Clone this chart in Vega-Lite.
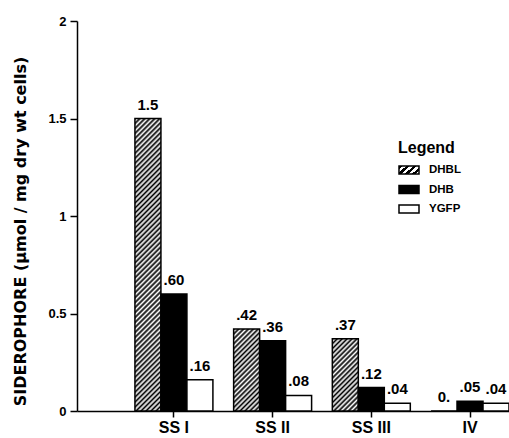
{
  "$schema": "https://vega.github.io/schema/vega-lite/v6.json",
  "autosize": {"type": "none"},
  "padding": {"left": 77, "top": 21, "right": 0, "bottom": 27},
  "width": 432,
  "height": 390,
  "background": "#ffffff",
  "config": {"view": {"stroke": null}},
  "data": {"values": [
    {"group": "SS I", "series": "DHBL", "value": 1.5, "label": "1.5"},
    {"group": "SS I", "series": "DHB", "value": 0.6, "label": ".60"},
    {"group": "SS I", "series": "YGFP", "value": 0.16, "label": ".16"},
    {"group": "SS II", "series": "DHBL", "value": 0.42, "label": ".42"},
    {"group": "SS II", "series": "DHB", "value": 0.36, "label": ".36"},
    {"group": "SS II", "series": "YGFP", "value": 0.08, "label": ".08"},
    {"group": "SS III", "series": "DHBL", "value": 0.37, "label": ".37"},
    {"group": "SS III", "series": "DHB", "value": 0.12, "label": ".12"},
    {"group": "SS III", "series": "YGFP", "value": 0.04, "label": ".04"},
    {"group": "IV", "series": "DHBL", "value": 0, "label": "0."},
    {"group": "IV", "series": "DHB", "value": 0.05, "label": ".05"},
    {"group": "IV", "series": "YGFP", "value": 0.04, "label": ".04"}
  ]},
  "encoding": {
    "x": {
      "field": "group", "type": "nominal",
      "sort": ["SS I", "SS II", "SS III", "IV"],
      "scale": {"paddingInner": 0.21, "paddingOuter": 0.2935, "align": 1},
      "axis": {
        "title": null, "labelAngle": 0, "tickSize": 6, "tickColor": "#000", "tickWidth": 1.5,
        "domainColor": "#000", "domainWidth": 1.5,
        "labelFont": "Liberation Sans", "labelFontSize": 16, "labelFontWeight": "bold", "labelColor": "#000",
        "labelPadding": 2, "grid": false
      }
    },
    "xOffset": {
      "field": "series", "type": "nominal",
      "scale": {"domain": ["DHBL", "DHB", "YGFP"], "paddingInner": 0, "paddingOuter": 0}
    },
    "y": {
      "field": "value", "type": "quantitative",
      "scale": {"domain": [0, 2], "nice": false, "zero": true},
      "axis": {
        "values": [0, 0.5, 1, 1.5, 2],
        "labelExpr": "'' + datum.value",
        "grid": false,
        "tickSize": 7, "tickColor": "#000", "tickWidth": 1.5,
        "domainColor": "#000", "domainWidth": 1.5,
        "labelFont": "Liberation Sans", "labelFontSize": 13, "labelFontWeight": "bold", "labelColor": "#000",
        "labelPadding": 4,
        "title": "SIDEROPHORE (μmol / mg dry wt cells)",
        "titleFont": "DejaVu Sans", "titleFontSize": 16, "titleFontWeight": "bold", "titleColor": "#000",
        "titleX": -52, "titleY": 210, "titleBaseline": "alphabetic", "titleAngle": 270, "titleAlign": "center"
      }
    }
  },
  "layer": [
    {
      "mark": {"type": "bar", "stroke": "#000", "strokeWidth": 1.5},
      "encoding": {
        "fill": {
          "field": "series", "type": "nominal",
          "condition": [
            {"test": "datum.group === 'SS I' && datum.series === 'DHBL'", "value": {"gradient": "linear", "x1": 0, "y1": 0, "x2": 0.096, "y2": 1.0804, "stops": [
              {"offset": 0, "color": "#000"},{"offset": 0.0078, "color": "#fff"},{"offset": 0.0156, "color": "#000"},{"offset": 0.0234, "color": "#fff"},
              {"offset": 0.0313, "color": "#000"},{"offset": 0.0391, "color": "#fff"},{"offset": 0.0469, "color": "#000"},{"offset": 0.0547, "color": "#fff"},
              {"offset": 0.0625, "color": "#000"},{"offset": 0.0703, "color": "#fff"},{"offset": 0.0781, "color": "#000"},{"offset": 0.0859, "color": "#fff"},
              {"offset": 0.0938, "color": "#000"},{"offset": 0.1016, "color": "#fff"},{"offset": 0.1094, "color": "#000"},{"offset": 0.1172, "color": "#fff"},
              {"offset": 0.125, "color": "#000"},{"offset": 0.1328, "color": "#fff"},{"offset": 0.1406, "color": "#000"},{"offset": 0.1484, "color": "#fff"},
              {"offset": 0.1563, "color": "#000"},{"offset": 0.1641, "color": "#fff"},{"offset": 0.1719, "color": "#000"},{"offset": 0.1797, "color": "#fff"},
              {"offset": 0.1875, "color": "#000"},{"offset": 0.1953, "color": "#fff"},{"offset": 0.2031, "color": "#000"},{"offset": 0.2109, "color": "#fff"},
              {"offset": 0.2188, "color": "#000"},{"offset": 0.2266, "color": "#fff"},{"offset": 0.2344, "color": "#000"},{"offset": 0.2422, "color": "#fff"},
              {"offset": 0.25, "color": "#000"},{"offset": 0.2578, "color": "#fff"},{"offset": 0.2656, "color": "#000"},{"offset": 0.2734, "color": "#fff"},
              {"offset": 0.2813, "color": "#000"},{"offset": 0.2891, "color": "#fff"},{"offset": 0.2969, "color": "#000"},{"offset": 0.3047, "color": "#fff"},
              {"offset": 0.3125, "color": "#000"},{"offset": 0.3203, "color": "#fff"},{"offset": 0.3281, "color": "#000"},{"offset": 0.3359, "color": "#fff"},
              {"offset": 0.3438, "color": "#000"},{"offset": 0.3516, "color": "#fff"},{"offset": 0.3594, "color": "#000"},{"offset": 0.3672, "color": "#fff"},
              {"offset": 0.375, "color": "#000"},{"offset": 0.3828, "color": "#fff"},{"offset": 0.3906, "color": "#000"},{"offset": 0.3984, "color": "#fff"},
              {"offset": 0.4063, "color": "#000"},{"offset": 0.4141, "color": "#fff"},{"offset": 0.4219, "color": "#000"},{"offset": 0.4297, "color": "#fff"},
              {"offset": 0.4375, "color": "#000"},{"offset": 0.4453, "color": "#fff"},{"offset": 0.4531, "color": "#000"},{"offset": 0.4609, "color": "#fff"},
              {"offset": 0.4688, "color": "#000"},{"offset": 0.4766, "color": "#fff"},{"offset": 0.4844, "color": "#000"},{"offset": 0.4922, "color": "#fff"},
              {"offset": 0.5, "color": "#000"},{"offset": 0.5078, "color": "#fff"},{"offset": 0.5156, "color": "#000"},{"offset": 0.5234, "color": "#fff"},
              {"offset": 0.5313, "color": "#000"},{"offset": 0.5391, "color": "#fff"},{"offset": 0.5469, "color": "#000"},{"offset": 0.5547, "color": "#fff"},
              {"offset": 0.5625, "color": "#000"},{"offset": 0.5703, "color": "#fff"},{"offset": 0.5781, "color": "#000"},{"offset": 0.5859, "color": "#fff"},
              {"offset": 0.5938, "color": "#000"},{"offset": 0.6016, "color": "#fff"},{"offset": 0.6094, "color": "#000"},{"offset": 0.6172, "color": "#fff"},
              {"offset": 0.625, "color": "#000"},{"offset": 0.6328, "color": "#fff"},{"offset": 0.6406, "color": "#000"},{"offset": 0.6484, "color": "#fff"},
              {"offset": 0.6563, "color": "#000"},{"offset": 0.6641, "color": "#fff"},{"offset": 0.6719, "color": "#000"},{"offset": 0.6797, "color": "#fff"},
              {"offset": 0.6875, "color": "#000"},{"offset": 0.6953, "color": "#fff"},{"offset": 0.7031, "color": "#000"},{"offset": 0.7109, "color": "#fff"},
              {"offset": 0.7188, "color": "#000"},{"offset": 0.7266, "color": "#fff"},{"offset": 0.7344, "color": "#000"},{"offset": 0.7422, "color": "#fff"},
              {"offset": 0.75, "color": "#000"},{"offset": 0.7578, "color": "#fff"},{"offset": 0.7656, "color": "#000"},{"offset": 0.7734, "color": "#fff"},
              {"offset": 0.7813, "color": "#000"},{"offset": 0.7891, "color": "#fff"},{"offset": 0.7969, "color": "#000"},{"offset": 0.8047, "color": "#fff"},
              {"offset": 0.8125, "color": "#000"},{"offset": 0.8203, "color": "#fff"},{"offset": 0.8281, "color": "#000"},{"offset": 0.8359, "color": "#fff"},
              {"offset": 0.8438, "color": "#000"},{"offset": 0.8516, "color": "#fff"},{"offset": 0.8594, "color": "#000"},{"offset": 0.8672, "color": "#fff"},
              {"offset": 0.875, "color": "#000"},{"offset": 0.8828, "color": "#fff"},{"offset": 0.8906, "color": "#000"},{"offset": 0.8984, "color": "#fff"},
              {"offset": 0.9063, "color": "#000"},{"offset": 0.9141, "color": "#fff"},{"offset": 0.9219, "color": "#000"},{"offset": 0.9297, "color": "#fff"},
              {"offset": 0.9375, "color": "#000"},{"offset": 0.9453, "color": "#fff"},{"offset": 0.9531, "color": "#000"},{"offset": 0.9609, "color": "#fff"},
              {"offset": 0.9688, "color": "#000"},{"offset": 0.9766, "color": "#fff"},{"offset": 0.9844, "color": "#000"},{"offset": 0.9922, "color": "#fff"},
              {"offset": 1, "color": "#000"}
            ]}},
            {"test": "datum.group === 'SS II' && datum.series === 'DHBL'", "value": {"gradient": "linear", "x1": 0, "y1": 0, "x2": 0.3799, "y2": 1.1968, "stops": [
              {"offset": 0, "color": "#000"},{"offset": 0.0227, "color": "#fff"},{"offset": 0.0455, "color": "#000"},{"offset": 0.0682, "color": "#fff"},
              {"offset": 0.0909, "color": "#000"},{"offset": 0.1136, "color": "#fff"},{"offset": 0.1364, "color": "#000"},{"offset": 0.1591, "color": "#fff"},
              {"offset": 0.1818, "color": "#000"},{"offset": 0.2045, "color": "#fff"},{"offset": 0.2273, "color": "#000"},{"offset": 0.25, "color": "#fff"},
              {"offset": 0.2727, "color": "#000"},{"offset": 0.2955, "color": "#fff"},{"offset": 0.3182, "color": "#000"},{"offset": 0.3409, "color": "#fff"},
              {"offset": 0.3636, "color": "#000"},{"offset": 0.3864, "color": "#fff"},{"offset": 0.4091, "color": "#000"},{"offset": 0.4318, "color": "#fff"},
              {"offset": 0.4545, "color": "#000"},{"offset": 0.4773, "color": "#fff"},{"offset": 0.5, "color": "#000"},{"offset": 0.5227, "color": "#fff"},
              {"offset": 0.5455, "color": "#000"},{"offset": 0.5682, "color": "#fff"},{"offset": 0.5909, "color": "#000"},{"offset": 0.6136, "color": "#fff"},
              {"offset": 0.6364, "color": "#000"},{"offset": 0.6591, "color": "#fff"},{"offset": 0.6818, "color": "#000"},{"offset": 0.7045, "color": "#fff"},
              {"offset": 0.7273, "color": "#000"},{"offset": 0.75, "color": "#fff"},{"offset": 0.7727, "color": "#000"},{"offset": 0.7955, "color": "#fff"},
              {"offset": 0.8182, "color": "#000"},{"offset": 0.8409, "color": "#fff"},{"offset": 0.8636, "color": "#000"},{"offset": 0.8864, "color": "#fff"},
              {"offset": 0.9091, "color": "#000"},{"offset": 0.9318, "color": "#fff"},{"offset": 0.9545, "color": "#000"},{"offset": 0.9773, "color": "#fff"},
              {"offset": 1, "color": "#000"}
            ]}},
            {"test": "datum.group === 'SS III' && datum.series === 'DHBL'", "value": {"gradient": "linear", "x1": 0, "y1": 0, "x2": 0.4339, "y2": 1.204, "stops": [
              {"offset": 0, "color": "#000"},{"offset": 0.025, "color": "#fff"},{"offset": 0.05, "color": "#000"},{"offset": 0.075, "color": "#fff"},
              {"offset": 0.1, "color": "#000"},{"offset": 0.125, "color": "#fff"},{"offset": 0.15, "color": "#000"},{"offset": 0.175, "color": "#fff"},
              {"offset": 0.2, "color": "#000"},{"offset": 0.225, "color": "#fff"},{"offset": 0.25, "color": "#000"},{"offset": 0.275, "color": "#fff"},
              {"offset": 0.3, "color": "#000"},{"offset": 0.325, "color": "#fff"},{"offset": 0.35, "color": "#000"},{"offset": 0.375, "color": "#fff"},
              {"offset": 0.4, "color": "#000"},{"offset": 0.425, "color": "#fff"},{"offset": 0.45, "color": "#000"},{"offset": 0.475, "color": "#fff"},
              {"offset": 0.5, "color": "#000"},{"offset": 0.525, "color": "#fff"},{"offset": 0.55, "color": "#000"},{"offset": 0.575, "color": "#fff"},
              {"offset": 0.6, "color": "#000"},{"offset": 0.625, "color": "#fff"},{"offset": 0.65, "color": "#000"},{"offset": 0.675, "color": "#fff"},
              {"offset": 0.7, "color": "#000"},{"offset": 0.725, "color": "#fff"},{"offset": 0.75, "color": "#000"},{"offset": 0.775, "color": "#fff"},
              {"offset": 0.8, "color": "#000"},{"offset": 0.825, "color": "#fff"},{"offset": 0.85, "color": "#000"},{"offset": 0.875, "color": "#fff"},
              {"offset": 0.9, "color": "#000"},{"offset": 0.925, "color": "#fff"},{"offset": 0.95, "color": "#000"},{"offset": 0.975, "color": "#fff"},
              {"offset": 1, "color": "#000"}
            ]}}
          ],
          "scale": {
            "domain": ["DHBL", "DHB", "YGFP"],
            "range": [
              {"expr": "{gradient: 'linear', x1: 0, y1: 0, x2: 1.2069, y2: 0.4828, stops: [{offset: 0, color: '#000'}, {offset: 0.125, color: '#000'}, {offset: 0.125, color: '#fff'}, {offset: 0.25, color: '#fff'}, {offset: 0.25, color: '#000'}, {offset: 0.375, color: '#000'}, {offset: 0.375, color: '#fff'}, {offset: 0.5, color: '#fff'}, {offset: 0.5, color: '#000'}, {offset: 0.625, color: '#000'}, {offset: 0.625, color: '#fff'}, {offset: 0.75, color: '#fff'}, {offset: 0.75, color: '#000'}, {offset: 0.875, color: '#000'}, {offset: 0.875, color: '#fff'}, {offset: 1, color: '#fff'}]}"},
              "#000000",
              "#ffffff"
            ]
          },
          "legend": {
            "title": "Legend",
            "orient": "none", "legendX": 321, "legendY": 119,
            "padding": 0,
            "titleFont": "Liberation Sans", "titleFontSize": 16, "titleFontWeight": "bold", "titleColor": "#000", "titlePadding": 3,
            "labelFont": "Liberation Sans", "labelFontSize": 11.5, "labelFontWeight": "bold", "labelColor": "#000",
            "symbolType": "M-1,-0.4H1V0.4H-1Z", "symbolSize": 400,
            "symbolStrokeColor": "#000", "symbolStrokeWidth": 1.5,
            "rowPadding": 1.5, "labelOffset": 9
          }
        }
      }
    },
    {
      "mark": {"type": "text", "dy": -9, "baseline": "alphabetic", "font": "Liberation Sans", "fontSize": 15, "fontWeight": "bold", "fill": "#000"},
      "encoding": {
        "text": {"field": "label", "type": "nominal"}
      }
    }
  ]
}
